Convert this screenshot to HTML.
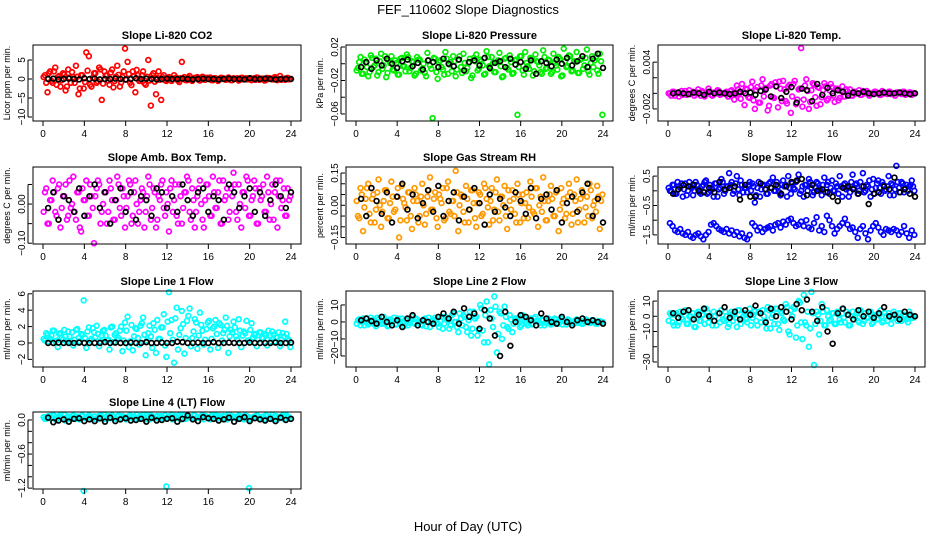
<!DOCTYPE html>
<html><head><meta charset="utf-8"><style>
html,body{margin:0;padding:0;background:#fff;}
svg{display:block;font-family:"Liberation Sans",Arial,sans-serif;}
</style></head><body>
<svg id="chart" width="936" height="540" viewBox="0 0 936 540" xmlns="http://www.w3.org/2000/svg">
<text x="468" y="14" text-anchor="middle" font-size="13">FEF_110602  Slope Diagnostics</text>
<text x="468" y="531" text-anchor="middle" font-size="13">Hour of Day (UTC)</text>
</svg>
<script>
// ---- data ----
const co2Color=[1,-3.5,2,-1,3,0.5,-2,1.5,-3,2.5,-1,0.5,3.5,-4,1,-2.5,7,6,-2,1.5,-1,3,-5.5,2,1,-1.5,2.5,-0.5,3.5,-2,0.5,8,4.5,-1,2,-3.5,1,-0.5,2,-1.5,5,-7,1.5,-4,2,-5.5,1,-0.5,0.5,-0.5,1,0.3,-0.8,4.5,0.5,-0.3,0.8,-0.5,0.3,0.5,-0.4,0.6,-0.2,0.3,0.4,-0.3,0.2,-0.5,0.3,0.1,-0.2,0.4,-0.3,0.2,0.1,-0.4,0.3,-0.1,0.2,0.1,-0.3,0.2,0.4,-0.2,0.1,-0.4,0.3,0.2,-0.1,0.5,-0.3,0.8,0.1,-0.2,0.3,0];
const co2ColorB=[0.5,-1,1.5,-0.5,2,-1.5,0.8,-0.3,1.2,-2,0.4,1.8,-1,0.6,-2.5,1,-0.8,2.2,-1.5,0.3,1.5,-0.6,2.5,-1.2,0.9,-0.4,1.7,-2.2,0.6,1.1,-0.9,2,-0.2,1.3,-1.6,0.7,2.4,-0.5,1,-1.1,0.6,-0.4,1,-0.7,0.3,-0.2,0.5,-0.3,0.2,0.4,-0.1,0.3,-0.4,0.2,0.1,-0.3,0.4,-0.2,0.1,0.3,-0.2,0.2,-0.1,0.3,0.1,-0.3,0.2,0,-0.2,0.3,0.1,-0.1,0.2,-0.3,0.1,0.2,-0.2,0.3,0,-0.1,0.2,0.1,-0.2,0.3,0,0.1,-0.3,0.2,0.1,-0.1,0.4,0,-0.2,0.1,0.2,-0.1];
const co2Black=[0,0.1,-0.1,0,0.1,0,-0.1,0.2,0,0.1,-0.1,0,0,0.1,0,-0.1,0,0.2,0,0.1,0,-0.1,0,0.1,0,0,0.1,0,-0.1,0,0.1,0,0,-0.1,0,0.1,0,0,-0.1,0.2,0,0,0.1,0,-0.1,0,0,0];
const presColor=[-0.005,0.008,-0.012,0.002,-0.015,0.01,-0.004,0.006,-0.01,0.012,-0.002,-0.016,0.004,0.009,-0.008,0.001,-0.013,0.007,-0.003,0.011,-0.009,0.003,-0.014,0.008,0.005,-0.006,-0.011,0.013,-0.002,-0.065,0.006,-0.018,0.004,-0.007,0.014,-0.012,0.002,0.009,-0.015,0.005,-0.004,0.012,-0.009,0.001,-0.017,0.007,0.011,-0.006,0.003,-0.013,0.015,-0.003,0.008,-0.01,0.002,0.013,-0.016,0.006,-0.005,0.01,-0.012,0.004,-0.061,0.009,-0.008,0.014,-0.003,0.007,-0.014,0.011,0.002,-0.01,0.016,-0.006,0.005,-0.012,0.012,-0.002,0.008,-0.015,0.018,-0.004,0.01,-0.009,0.003,0.014,-0.011,0.006,-0.002,0.017,-0.013,0.009,0.004,-0.008,0.012,-0.061];
const presColorB=[-0.008,0.002,-0.012,0.005,-0.004,-0.01,0.007,-0.002,-0.014,0.003,-0.006,0.009,-0.011,0.001,-0.007,0.004,-0.013,0.006,-0.003,-0.009,0.008,-0.005,0.002,-0.012,0.005,-0.008,0,-0.015,0.004,-0.006,0.007,-0.01,0.002,-0.004,-0.013,0.006,-0.001,-0.009,0.003,-0.007,0.009,-0.011,0.001,-0.005,0.006,-0.014,0.003,-0.008,0.005,-0.002,-0.012,0.008,-0.006,0.001,-0.01,0.004,-0.003,-0.015,0.007,-0.007,0.002,-0.011,0.005,-0.004,0.009,-0.013,0.001,-0.006,0.006,-0.009,0.003,-0.002,-0.012,0.008,-0.005,0.004,-0.01,0.001,-0.007,0.006,-0.014,0.003,-0.003,0.009,-0.008,0.002,-0.011,0.005,-0.006,0.007,-0.009,0.001,-0.004,0.008,-0.012,0.003];
const presBlack=[-0.004,0.002,-0.006,0.004,-0.002,0.006,0,-0.005,0.003,0.005,-0.003,0.001,-0.007,0.004,0.002,-0.004,0.006,0,-0.003,0.005,-0.008,0.002,0.004,-0.002,0.007,-0.005,0.001,0.003,-0.004,0.006,-0.001,0.002,-0.006,0.004,-0.012,0.003,0.001,-0.003,0.005,0,0.007,-0.002,0.003,0.009,-0.004,0.006,0.012,-0.005];
const tempColor=[0,0.0002,-0.0003,0.0001,0,-0.0002,0.0003,0,-0.0001,0.0002,0,0.0005,-0.0003,0.0001,0,0.0006,-0.0002,0.0001,0,0.0003,-0.0001,0,0.0002,-0.0004,0.0004,-0.0008,0.001,0,0.0012,-0.0015,0.0005,-0.0006,0.0015,-0.002,0.0008,-0.0012,0.0018,0.0004,-0.0022,0.001,-0.0005,0.0014,-0.0018,0.0006,0.0016,-0.001,0.0009,-0.0025,0.0012,-0.0014,0.0005,0.0058,-0.0008,0.0018,-0.002,0.0004,0.0011,-0.0016,0.0007,-0.0005,0.0013,-0.0009,0.0004,0.0008,-0.0011,0.0006,-0.0006,0.0009,-0.0004,0.0003,0.0005,-0.0003,0.0002,0,-0.0002,0.0003,0,0.0001,-0.0001,0,0.0002,0,-0.0002,0.0001,0,0.0002,-0.0001,0,0.0001,0,-0.0001,0.0002,0,0.0001,-0.0002,0];
const tempColorB=[0,-0.0003,0.0002,0,-0.0004,0.0003,0,-0.0002,0.0004,0,-0.0003,0.0001,0,0.0003,-0.0004,0,0.0002,-0.0003,0,0.0004,-0.0002,0,0.0001,-0.0004,0.0003,0,-0.0002,0.0005,-0.0007,0.0002,0.0006,-0.0005,0.0008,-0.0009,0.0004,-0.0012,0.001,-0.0004,0.0007,-0.0016,0.0012,-0.0006,0.0009,0.0015,-0.001,0.0005,-0.0013,0.0011,-0.0004,0.0016,-0.0008,0.0006,-0.0017,0.001,0.0003,-0.0011,0.0013,-0.0005,0.0008,-0.0014,0.0004,0.0009,-0.0007,0.0012,-0.0003,0.0006,-0.0009,0.0003,-0.0004,0.0005,0,-0.0003,0.0002,0,0.0004,-0.0002,0,0.0003,-0.0003,0,0.0002,0,-0.0002,0.0003,0,-0.0001,0.0002,0,-0.0003,0.0001,0,0.0002,-0.0002,0,0.0001,0];
const tempBlack=[0,0.0001,0,-0.0001,0.0001,0,-0.0002,0.0002,0,0.0001,0,-0.0001,0,0.0002,0,0.0001,-0.0002,0.0003,0.0005,-0.0004,0.0009,-0.0006,0.0002,0.0008,-0.0012,0.0006,0.0004,-0.001,0.0012,-0.0002,0.0007,0,0.0004,0.0002,-0.0003,0.0001,0,0.0002,0,-0.0001,0,0.0001,0,0,0.0001,0,-0.0001,0];
const ambColor=[0.03,-0.05,0.01,0.06,-0.02,0.04,-0.06,0.02,0.05,-0.03,-0.01,0.07,-0.04,0.03,-0.07,0.01,0.06,-0.03,0.02,-0.1,0.04,0.05,-0.02,0.03,-0.05,0.06,0.01,-0.04,0.07,-0.01,0.04,-0.06,0.02,0.05,-0.03,0.06,-0.05,0.01,0.03,-0.02,0.07,-0.04,0.04,-0.06,0.02,0.05,-0.01,0.03,-0.07,0.06,0.01,-0.03,0.05,-0.05,0.03,0.07,-0.02,0.04,-0.06,0.02,0.06,-0.04,0.01,0.05,-0.03,0.07,-0.01,0.03,-0.05,0.06,0.02,-0.04,0.04,0.08,-0.02,0.05,-0.06,0.03,0.07,-0.03,0.01,0.06,-0.05,0.04,0.02,-0.02,0.07,-0.04,0.05,0.03,-0.06,0.06,0.01,-0.03,0.04,0.02];
const ambColorB=[-0.02,0.04,-0.05,0.01,0.03,-0.03,0.05,-0.01,0.02,-0.04,0.06,0,-0.02,0.03,-0.06,0.04,0.01,-0.03,0.05,-0.01,0.02,0.06,-0.05,0,0.03,-0.02,0.04,-0.04,0.01,0.05,-0.03,0.02,-0.01,0.06,-0.05,0.03,0,-0.02,0.04,-0.06,0.02,0.05,-0.01,0.03,-0.04,0.01,0.06,-0.03,0,0.04,-0.02,0.05,-0.05,0.02,-0.01,0.03,0.06,-0.04,0.01,-0.02,0.04,0,-0.06,0.05,0.02,-0.03,0.03,-0.01,0.06,-0.05,0.01,0.04,-0.02,0.02,0.05,-0.04,0,0.03,-0.01,0.06,-0.03,0.02,0.04,-0.05,0.01,0.05,-0.02,0.03,0,-0.04,0.06,0.02,-0.01,0.04,-0.03,0.01];
const ambBlack=[-0.01,0.03,-0.04,0.02,0.01,-0.02,0.04,-0.03,0.02,0.05,-0.01,0.03,-0.05,0.01,0.04,-0.02,0.03,-0.04,0.02,0.01,-0.03,0.04,0.03,-0.01,0.02,-0.02,0.05,0.01,-0.03,0.03,0.04,-0.02,0.02,0.01,-0.04,0.05,0.03,-0.01,0.02,0.04,-0.02,0.03,-0.03,0.01,0.05,0.02,-0.01,0.03];
const rhColor=[-0.05,0.08,-0.12,0.03,0.1,-0.08,0.05,-0.02,0.12,-0.1,0.02,0.07,-0.06,0.11,-0.03,0.04,-0.15,0.09,0.01,-0.07,0.06,-0.11,0.08,0.02,-0.05,0.1,-0.09,0.04,0.13,-0.02,0.06,-0.1,0.03,0.08,-0.06,0.11,-0.04,0.02,0.16,-0.12,0.05,-0.03,0.09,-0.08,0.07,0.01,-0.1,0.06,-0.05,0.1,0.03,-0.09,0.08,-0.02,0.12,-0.07,0.04,0.09,-0.11,0.02,0.07,-0.04,0.1,-0.08,0.05,0.01,-0.06,0.11,-0.03,0.08,-0.1,0.04,0.13,-0.07,0.02,0.09,-0.05,0.06,-0.12,0.08,0.03,-0.04,0.1,-0.09,0.05,0.12,-0.02,0.07,-0.08,0.04,0.1,-0.06,0.02,0.09,-0.11,0.05];
const rhColorB=[0.02,-0.06,0.05,-0.01,0.08,-0.04,0.03,-0.08,0.06,0,-0.03,0.07,-0.06,0.01,0.04,-0.02,0.08,-0.07,0.03,-0.01,0.06,-0.05,0.02,0.05,-0.08,0.04,0,-0.04,0.07,-0.02,0.03,-0.06,0.05,0.01,-0.07,0.08,-0.03,0.02,-0.05,0.06,0,0.04,-0.08,0.03,-0.02,0.07,-0.06,0.01,0.05,-0.04,0.08,-0.01,0.02,-0.07,0.06,-0.03,0.04,0,-0.05,0.07,-0.02,0.03,-0.08,0.05,0.01,-0.06,0.06,-0.01,0.04,-0.04,0.08,0,-0.03,0.02,-0.07,0.05,0.03,-0.05,0.07,-0.02,0.01,-0.06,0.04,0.06,-0.04,0.02,-0.08,0.03,0.05,-0.01,-0.05,0.07,0,-0.03,0.04,0.02];
const rhBlack=[0.03,-0.05,0.08,0.02,-0.04,0.06,-0.08,0.04,0.1,-0.02,0.05,-0.06,0.01,0.07,-0.03,0.09,-0.05,0.02,0.06,-0.07,0.04,-0.02,0.08,0.01,-0.09,0.05,-0.03,0.03,-0.01,-0.05,0.06,0.02,-0.04,0.08,-0.06,0.03,0.05,-0.02,0.07,-0.08,0.01,0.04,-0.03,0.06,0.1,-0.05,0.03,-0.08];
const flowUpColor=[0,0.2,-0.1,0.3,0.1,-0.2,0.25,0,0.15,-0.15,0.3,0.05,-0.1,0.2,0.35,-0.05,0.1,-0.2,0.25,0.05,0.4,-0.1,0.15,0.6,0.3,0,0.5,-0.15,0.2,0.1,-0.05,0.3,0.25,-0.4,0.1,-0.2,0.2,0.05,-0.1,0.3,0.45,0,0.15,-0.15,0.35,0.2,0.5,-0.1,0.1,0.3,0.55,0,-0.2,0.2,0.4,0.1,-0.05,0.3,0.05,-0.15,0.45,0.2,-0.1,0.35,0,0.15,0.5,-0.2,0.25,0.1,-0.05,0.55,0.2,-0.1,0.3,0.6,0,0.15,-0.2,0.4,0.1,0.35,-0.1,0.2,0.05,0.5,0.25,-0.15,0.85,0.1,0.3,-0.05,0.2,0.15,0.35,0];
const flowUpColorB=[0.1,0,0.2,-0.1,0.15,0.25,0.05,-0.15,0.3,0.1,0,0.2,-0.05,0.15,0.3,-0.1,0.2,0.05,0.25,-0.2,0.1,0.3,0,0.15,0.2,-0.1,0.25,0.05,0.35,-0.05,0.1,0.2,0,0.15,-0.15,0.3,0.05,0.2,-0.1,0.25,0.1,0,0.3,-0.05,0.2,0.15,-0.2,0.1,0.25,0.05,0.35,-0.1,0.15,0.2,0,0.3,-0.15,0.1,0.25,0.05,0.2,-0.05,0.3,0.1,0,0.25,-0.1,0.15,0.2,0.05,-0.2,0.3,0.1,0.25,0,0.15,-0.05,0.2,0.35,0.05,-0.1,0.25,0.1,0.3,0,0.15,-0.15,0.2,0.05,0.3,-0.05,0.25,0.1,0,0.2,0.15];
const flowLowColor=[-1.1,-1.2,-1.35,-1.4,-1.3,-1.45,-1.5,-1.4,-1.55,-1.6,-1.5,-1.45,-1.55,-1.65,-1.5,-1.4,-1.15,-1.1,-1.2,-1.3,-1.35,-1.4,-1.3,-1.45,-1.35,-1.5,-1.4,-1.55,-1.45,-1.6,-1.65,-1.5,-1.1,-1.2,-1.35,-1.25,-1.4,-1.3,-1.25,-1.2,-1.35,-1.15,-1.1,-1.25,-1.05,-1.15,-1.0,-0.95,-1.1,-1.2,-1.15,-1.05,-1.2,-1.0,-1.25,-1.3,-1.1,-0.9,-1.35,-1.2,-1.4,-0.85,-1.0,-1.2,-1.45,-1.3,-1.2,-1.1,-0.95,-1.15,-1.3,-1.25,-1.4,-1.6,-1.3,-1.2,-1.45,-1.65,-1.35,-1.2,-1.1,-1.25,-1.4,-1.5,-1.3,-1.35,-1.4,-1.3,-1.35,-1.5,-1.4,-1.2,-1.45,-1.6,-1.35,-1.5];
const flowBlack=[-0.1,0.05,0.2,0.15,0.2,0,-0.05,0.1,-0.05,0.3,0.05,0.1,0.15,-0.3,0.2,-0.2,-0.2,0.25,0.05,0.1,0.2,-0.1,0.15,0.3,0.35,0.4,-0.15,0.2,0,0.05,-0.05,-0.2,-0.35,0.1,0.15,0.05,-0.1,0.15,-0.45,-0.1,-0.05,0.15,0.05,0.45,-0.05,0.05,-0.1,-0.2];
const l1Color=[0.3,1,0.5,1.5,0.2,-0.5,1.2,0.4,0.8,1.4,0.1,-0.3,1.6,0.6,1.1,5.2,-0.6,1.9,0.5,1.3,2.1,-0.4,0.9,1.6,0.3,-0.8,2,1,0.4,1.5,-1,2.5,3.2,0.2,-0.9,1.8,0.6,2.1,3.1,-1.5,1.2,0.8,2.4,-1.2,0.5,1.9,3.5,-1.7,6.2,2.8,-2.4,4.3,1,3.9,-1.3,2.7,4.2,0.6,2.9,-0.7,3.7,1.5,0.4,2.5,-0.8,1.8,2.8,-0.6,2.2,1.2,3.1,-1.2,1.6,2.6,0.8,2.9,-0.5,1.4,2.7,0.3,2.4,1,-0.4,1.3,0.6,1.1,-0.3,0.9,1.4,0.2,0.7,-0.4,1.2,2.6,0.5,-0.5];
const l1ColorB=[0.5,1.2,0.2,0.9,1.5,0.3,1.1,0.6,1.6,0.1,0.8,1.3,0.4,1.7,0.2,1,0.6,1.4,0.3,1.8,0.7,1.1,0.2,1.5,0.9,0.4,1.9,0.1,1.2,0.6,2,0.3,1.5,-0.5,2.2,0.8,1.7,-0.2,2.4,1,0.3,2.1,-0.6,1.6,2.8,0.5,1.9,-0.3,2.6,1.2,0.4,3,-0.8,1.8,2.3,0.6,3.3,-0.4,1.4,2.5,0.9,2.2,-0.2,1.7,2.7,0.5,2,1.1,2.4,0.3,1.6,2.1,0.8,1.3,1.9,0.4,1.5,0.9,1.2,0.3,1.6,0.7,1.1,0.4,1.3,0.6,0.9,1.5,0.2,1,0.7,1.3,0.4,0.8,1.1,0.3];
const l1Black=[0,0,0.05,0,0,0,0.05,0,0,0,0,0.1,0,0.05,0,0,0.05,0,0,0.1,0,0,0.05,0,0,0.15,0.1,0,0,0.05,0,0,0.1,0,0,0.05,0,0,0,0.05,0,0,0,0,0.05,0,0,0.05];
const l2Color=[1,-2,2,0,-1.5,2.5,0.5,-2.5,1.5,-1,3,0,-2,1,2.5,-1.5,0.5,2,-2.5,1,-0.5,3,-1,1.5,0,-2,2,0.5,-3,1,2.5,-1,0.5,-4,3,1,-2,5,0,-6,2,4,-3,1,-8,6,3,-5,8,-12,12,-25,2,15,-18,6,-10,9,-3,4,-6,2,1,-3,4,0,-2,2,-1,3,0.5,-2,1,-0.5,2,-1.5,0,1.5,-1,2,0.5,-1.5,1,0,-1,1.5,0.5,-1,0,1,-0.5,1,0,-1,0.5,0];
const l2ColorB=[-1,1.5,0,-2,2,-0.5,1,-1.5,2.5,0,-1,1,-2.5,1.5,0.5,-1.5,2,-1,0,1.5,-2,1,-0.5,2,0.5,-1.5,1,-2.5,2.5,0,-1,1.5,-3,3,-1,2,-4,4,0,-3,5,-2,3,-6,6,-4,2,-8,10,-5,4,-12,7,-3,9,-7,5,-2,3,-4,1.5,-1,2,0,-2,2.5,-1,1,-1.5,2,0.5,-0.5,1.5,-2,1,0,-1,2,-0.5,1,-1.5,0.5,1.5,-1,0,1,-0.5,0.5,-1,1.5,0,-0.5,1,-1,0.5,0];
const l2Black=[1,2,0.5,-1,3,0,-2,1,-3,2,4,-2,1,0,-1,3,5,2,6,-1,8,3,5,-4,7,2,-8,-20,6,-14,0,4,3,1,-2,5,2,0,-1,3,0,-2,1,2,0,1,0,-1];
const l3Color=[2,-4,1,-6,3,-2,4,-5,0,2,-7,3,-3,1,5,-4,-1,3,-6,2,4,-3,0,-5,3,1,-7,4,-2,2,-4,5,-1,3,-6,2,4,-3,6,-8,1,5,-5,3,-2,8,-10,4,6,-14,10,-4,14,-6,-20,16,-32,3,-12,8,-6,4,-3,2,-5,3,-2,5,-4,1,-6,3,0,-3,4,-5,2,-1,3,-4,1,-2,4,-3,0,2,-5,3,-1,2,-3,1,-2,3,-1,0];
const l3ColorB=[-3,1,-6,2,-4,-1,3,-5,0,-2,-7,2,-3,1,-5,3,-1,-6,0,2,-4,-2,3,-7,1,-3,-1,4,-5,0,-2,2,-6,1,-3,3,-4,0,-8,4,-1,-5,5,-9,2,-3,6,-12,0,5,-6,9,-15,-4,3,-8,2,-5,1,-3,3,-6,0,-2,2,-5,1,-4,-1,3,-6,0,-2,2,-4,1,-3,-1,3,-5,0,-2,1,-4,2,-3,0,-1,1,-3,2,-2,0,-4,1,-1];
const l3Black=[2,-1,3,4,-2,1,5,0,-3,2,6,-1,3,-2,4,1,7,2,-4,5,0,6,3,-2,8,4,11,3,-3,6,-10,-18,2,5,1,-2,4,0,3,-1,2,6,0,1,-2,3,1,0];
const l4Color=[0.02,0.06,0.03,0.08,0.01,0.05,0.09,0.03,-0.01,0.06,0.04,0.08,0.02,0.05,0.07,-1.25,0.04,0.08,0.03,0.06,0.01,0.07,0.05,0.09,0.02,0.04,0.08,0.03,0.06,0.01,0.07,0.05,0.03,0.08,0.06,0.02,0.04,0.07,0.09,0.01,0.05,0.08,0.03,0.06,0.02,0.07,0.04,-1.17,0.06,0.09,0.03,0.05,0.08,0.01,0.07,0.04,0.06,0.02,0.08,0.05,0.03,0.09,0.07,0.04,0.01,0.06,0.08,0.03,0.05,0.07,0.02,0.09,0.04,0.06,0.03,0.08,0.05,0.01,0.07,-1.2,0.04,0.06,0.08,0.03,0.05,0.02,0.07,0.04,0.09,0.06,0.01,0.05,0.08,0.03,0.06,0.02];
const l4ColorB=[0.05,0.02,0.07,0.04,0.08,0.01,0.06,0.03,0.09,0.05,0.02,0.07,0.04,0.06,0.01,0.08,0.03,0.05,0.07,0.02,0.06,0.04,0.08,0.01,0.05,0.07,0.03,0.06,0.02,0.08,0.04,0.05,0.01,0.07,0.03,0.06,0.09,0.02,0.05,0.04,0.08,0.01,0.06,0.03,0.07,0.05,0.02,0.08,0.04,0.06,0.01,0.07,0.03,0.05,0.09,0.02,0.06,0.04,0.08,0.03,0.05,0.07,0.01,0.06,0.04,0.08,0.02,0.05,0.07,0.03,0.06,0.01,0.09,0.04,0.05,0.02,0.07,0.03,0.08,0.06,0.01,0.05,0.04,0.07,0.02,0.06,0.08,0.03,0.05,0.01,0.07,0.04,0.06,0.02,0.08,0.05];
const l4Black=[0.04,-0.04,-0.01,0.01,-0.03,0.02,0.03,-0.02,0.01,-0.02,0.03,-0.03,0.04,-0.02,0.01,0.03,-0.01,0,0.02,-0.03,0.04,-0.01,0,0.02,0.03,-0.03,0.02,0.08,0.01,-0.02,0.05,0.03,0.02,-0.01,0.01,0.04,-0.03,0.02,0.05,-0.02,0.03,0.01,-0.01,0.02,-0.02,0.04,0,0.02];
const xTickValues=[0,4,8,12,16,20,24];

// ---- layout config (not data) ----
const cols=[[33,301],[346,613],[658,925]];
const rows=[[45,121],[167,244],[291,367],[412,489]];
const panels=[
 {name:'co2',title:'Slope Li-820 CO2',yl:'Licor ppm per min.',c:0,r:0,d:[-11.05,8.95],ticks:[-10,-5,0,5],lab:['-10','-5','0','5'],col:'#ff0000',cs:[co2Color,co2ColorB],bk:co2Black},
 {name:'pressure',title:'Slope Li-820 Pressure',yl:'kPa per min.',c:1,r:0,d:[-0.0684,0.0224],ticks:[-0.06,-0.04,-0.02,0,0.02],lab:['-0.06','','-0.02','','0.02'],col:'#00ee00',cs:[presColor,presColorB],bk:presBlack},
 {name:'temp',title:'Slope Li-820 Temp.',yl:'degrees C per min.',c:2,r:0,d:[-0.00355,0.0062],ticks:[-0.002,0,0.002,0.004],lab:['-0.002','','','0.004'],col:'#ff00ff',cs:[tempColor,tempColorB],bk:tempBlack},
 {name:'amb-box-temp',title:'Slope Amb. Box Temp.',yl:'degrees C per min.',c:0,r:1,d:[-0.102,0.0946],ticks:[-0.1,-0.05,0,0.05],lab:['-0.10','','0.00',''],col:'#ff00ff',cs:[ambColor,ambColorB],bk:ambBlack},
 {name:'gas-stream-rh',title:'Slope Gas Stream RH',yl:'percent per min.',c:1,r:1,d:[-0.18,0.178],ticks:[-0.15,-0.1,-0.05,0,0.05,0.1,0.15],lab:['-0.15','','','0.00','','','0.15'],col:'#ff9900',cs:[rhColor,rhColorB],bk:rhBlack},
 {name:'sample-flow',title:'Slope Sample Flow',yl:'ml/min per min.',c:2,r:1,d:[-1.81,0.81],ticks:[-1.5,-1,-0.5,0,0.5],lab:['-1.5','','-0.5','','0.5'],col:'#0000ff',cs:[flowUpColor,flowUpColorB,flowLowColor],bk:flowBlack},
 {name:'line1-flow',title:'Slope Line 1 Flow',yl:'ml/min per min.',c:0,r:2,d:[-2.93,6.34],ticks:[-2,0,2,4,6],lab:['-2','0','2','4','6'],col:'#00ffff',cs:[l1Color,l1ColorB],bk:l1Black},
 {name:'line2-flow',title:'Slope Line 2 Flow',yl:'ml/min per min.',c:1,r:2,d:[-26.5,18.2],ticks:[-20,-10,0,10],lab:['-20','-10','0','10'],col:'#00ffff',cs:[l2Color,l2ColorB],bk:l2Black},
 {name:'line3-flow',title:'Slope Line 3 Flow',yl:'ml/min per min.',c:2,r:2,d:[-33.3,16.6],ticks:[-30,-20,-10,0,10],lab:['-30','','-10','0','10'],col:'#00ffff',cs:[l3Color,l3ColorB],bk:l3Black},
 {name:'line4-flow',title:'Slope Line 4 (LT) Flow',yl:'ml/min per min.',c:0,r:3,d:[-1.215,0.14],ticks:[-1.2,-1,-0.8,-0.6,-0.4,-0.2,0],lab:['-1.2','','','-0.6','','','0.0'],col:'#00ffff',cs:[l4Color,l4ColorB],bk:l4Black}
];
const svg=document.getElementById('chart');
const NS='http://www.w3.org/2000/svg';
function mk(tag,attrs,parent){const e=document.createElementNS(NS,tag);for(const k in attrs)e.setAttribute(k,attrs[k]);parent.appendChild(e);return e;}
panels.forEach(p=>{
 const [L,R]=cols[p.c],[T,B]=rows[p.r];
 const x0=L+10,x1=R-10;
 const xs=h=>x0+(x1-x0)*h/24;
 const ys=v=>B-(v-p.d[0])/(p.d[1]-p.d[0])*(B-T);
 const g=mk('g',{},svg);
 
 
 const t=mk('text',{x:(L+R)/2,y:T-6,'text-anchor':'middle','font-size':11,'font-weight':'bold'},g);
 t.textContent=p.title;
 
 
 const pts=mk('g',{},g);
 
 
 p.cs.forEach((arr,k)=>{const off=(k%2===0)?0.75:0.25;arr.forEach((v,i)=>{
   const c=mk('circle',{cx:xs((i+off)*24/arr.length),cy:ys(v),r:2.4,fill:'none',stroke:p.col,'stroke-width':1.7},pts);
   
   
 });});
 const bk=mk('g',{},g);
 
 
 p.bk.forEach((v,i)=>{
   const c=mk('circle',{cx:xs((i+1)*24/(p.bk.length)),cy:ys(v),r:2.4,fill:'none',stroke:'#000','stroke-width':1.7},bk);
   
   
 });
 const box=mk('rect',{x:L,y:T,width:R-L,height:B-T,fill:'none',stroke:'#000','stroke-width':1},g);
 
 
 xTickValues.forEach(h=>{
   mk('line',{x1:xs(h),x2:xs(h),y1:B,y2:B+5,stroke:'#000'},g);
   const tx=mk('text',{x:xs(h),y:B+16,'text-anchor':'middle','font-size':10},g);
   tx.textContent=h;
   
   
 });
 mk('line',{x1:L-5,x2:L-5,y1:ys(p.ticks[0]),y2:ys(p.ticks[p.ticks.length-1]),stroke:'#000'},g);
 p.ticks.forEach((v,i)=>{
   const y=ys(v);
   mk('line',{x1:L-5,x2:L-1,y1:y,y2:y,stroke:'#000'},g);
   if(p.lab[i]!==''){
     const ty=mk('text',{x:L-8,y:y,'text-anchor':'middle','font-size':10,transform:`rotate(-90 ${L-8} ${y})`},g);
     ty.textContent=String(p.lab[i]).replace('-','\u2212');
     
     
   }
 });
 const cy=(T+B)/2;
 const yl=mk('text',{x:L-23,y:cy,'text-anchor':'middle','font-size':9,transform:`rotate(-90 ${L-23} ${cy})`},g);
 yl.textContent=p.yl;
 
 
});
</script>
</body></html>
